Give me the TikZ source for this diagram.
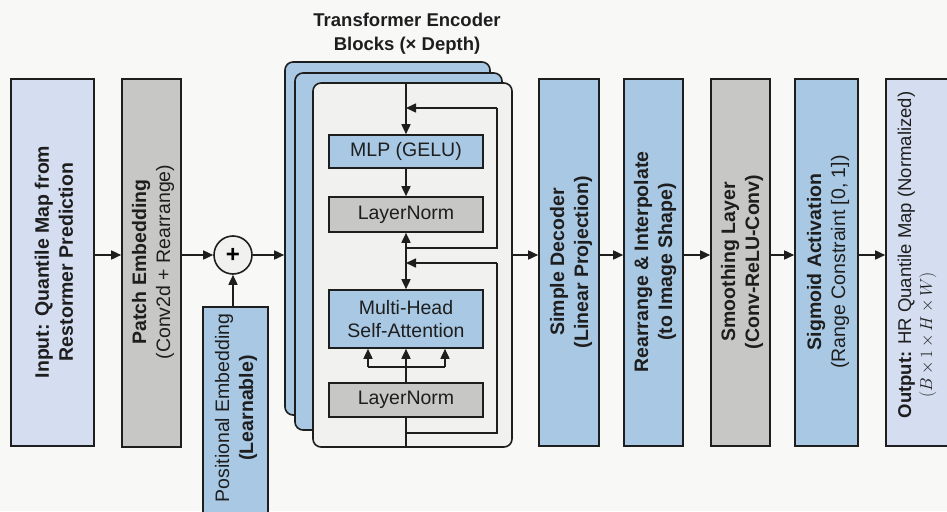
\documentclass[tikz,border=0pt]{standalone}
\usepackage{fontspec}
\setmainfont{Liberation Sans}
\usetikzlibrary{arrows.meta,calc}
\definecolor{bg}{HTML}{F8F8F7}
\definecolor{edge}{HTML}{1E1E1E}
\definecolor{lav}{HTML}{D5DEF0}
\definecolor{gry}{HTML}{C7C7C5}
\definecolor{blu}{HTML}{A8C8E4}
\definecolor{panel}{HTML}{F1F1EF}
\definecolor{txt}{HTML}{1E1E1E}
\begin{document}
\begin{tikzpicture}[x=1pt,y=-1pt,
  box/.style={draw=edge, line width=1.6pt, inner sep=0pt},
  layer/.style={draw=edge, line width=1.6pt, rounded corners=8pt, inner sep=0pt},
  lbl/.style={rotate=90, align=center, font=\fontsize{19.5}{24}\selectfont, text=txt, inner sep=0pt},
  ibox/.style={box, minimum width=154pt, align=center, font=\fontsize{19.5}{23}\selectfont, text=txt},
  arr/.style={line width=1.6pt, draw=edge, -{Triangle[length=10pt,width=9pt]}},
  ln/.style={line width=1.6pt, draw=edge}]
\fill[bg] (0,0) rectangle (947,511);
\path[use as bounding box] (0,0) rectangle (947,511);

% title
\node[align=center, font=\bfseries\fontsize{18.5}{24}\selectfont, text=txt] (title) at (407,34) {Transformer Encoder\\Blocks (× Depth)};

% left boxes
\node[box, fill=lav, minimum width=83pt, minimum height=367pt] (inp) at (52.5,262.5) {};
\node[lbl] (inpt) at (54,262) {\textbf{Input: Quantile Map from}\\\textbf{Restormer Prediction}};
\node[box, fill=gry, minimum width=59pt, minimum height=368pt] (patch) at (151.5,263) {};
\node[lbl] (patcht) at (153,262) {\textbf{Patch Embedding}\\(Conv2d + Rearrange)};

\node[draw=edge, line width=1.6pt, circle, fill=panel, minimum size=38pt, inner sep=0pt, font=\bfseries\fontsize{24}{24}\selectfont] (plus) at (233,255) {+};

\node[box, fill=blu, minimum width=65pt, minimum height=223pt] (pos) at (235.5,418.5) {};
\node[lbl] (post) at (236,408) {Positional Embedding\\\textbf{(Learnable)}};

% stacked encoder blocks
\node[layer, fill=blu, minimum width=205pt, minimum height=353pt] (l3) at (387.5,238.5) {};
\node[layer, fill=blu, minimum width=207pt, minimum height=357pt] (l2) at (398.5,251.5) {};
\node[layer, fill=panel, minimum width=199pt, minimum height=364pt] (front) at (412.5,265) {};

\node[ibox, fill=blu, minimum height=33pt] (mlp) at (406,151.5) {MLP (GELU)};
\node[ibox, fill=gry, minimum height=35pt] (ln1) at (406,214.5) {LayerNorm};
\node[ibox, fill=blu, minimum height=58pt] (mhsa) at (406,319) {Multi-Head\\Self-Attention};
\node[ibox, fill=gry, minimum height=34pt] (ln2) at (406,400) {LayerNorm};

\coordinate (j1) at (406,248);
\coordinate (r1a) at (497,248);
\coordinate (r1b) at (497,108);
\coordinate (r1c) at (406,108);
\coordinate (j2) at (406,433);
\coordinate (r2a) at (497,433);
\coordinate (r2b) at (497,263);
\coordinate (r2c) at (406,263);
\coordinate (bl) at (368,367);
\coordinate (br) at (445,367);

\draw[arr] (mlp.north |- front.north) -- (mlp.north);
\draw[arr] (mlp.south) -- (ln1.north);
\draw[arr] (j1) -- (ln1.south);
\draw[arr] (j1) -- (mhsa.north);
\draw[ln] (j1) -- (r1a) -- (r1b);
\draw[arr] (r1b) -- (r1c);
\draw[ln] (j2) -- (r2a) -- (r2b);
\draw[arr] (r2b) -- (r2c);
\draw[arr] (ln2.north) -- (mhsa.south);
\draw[ln] (bl) -- (br);
\draw[arr] (bl) -- (bl |- mhsa.south);
\draw[arr] (br) -- (br |- mhsa.south);
\draw[ln] (ln2.south) -- (ln2.south |- front.south);

% right boxes
\node[box, fill=blu, minimum width=60pt, minimum height=367pt] (dec) at (569,262.5) {};
\node[lbl] (dect) at (571,262) {\textbf{Simple Decoder}\\\textbf{(Linear Projection)}};
\node[box, fill=blu, minimum width=59pt, minimum height=367pt] (rea) at (653.5,262.5) {};
\node[lbl] (reat) at (655,262) {\textbf{Rearrange \& Interpolate}\\\textbf{(to Image Shape)}};
\node[box, fill=gry, minimum width=59pt, minimum height=367pt] (smo) at (740.5,262.5) {};
\node[lbl] (smot) at (742,262) {\textbf{Smoothing Layer}\\\textbf{(Conv-ReLU-Conv)}};
\node[box, fill=blu, minimum width=63pt, minimum height=367pt] (sig) at (826.5,262.5) {};
\node[lbl] (sigt) at (828,262) {\textbf{Sigmoid Activation}\\(Range Constraint [0, 1])};
\node[box, fill=lav, minimum width=70pt, minimum height=367pt] (out) at (921,262.5) {};
\node[lbl, align=left, font=\fontsize{18.5}{21}\selectfont] (outt) at (917,255) {\textbf{Output:} HR Quantile Map (Normalized)\\\hspace*{21pt}{\fontsize{18}{21}\selectfont$(B\,{\times}\,1\,{\times}\,H\,{\times}\,W)$}};

% main flow
\draw[arr] (inp.east |- plus) -- (patch.west |- plus);
\draw[arr] (patch.east |- plus) -- (plus.west);
\draw[arr] (pos.north -| plus) -- (plus.south);
\draw[arr] (plus.east) -- (l3.west |- plus);
\draw[arr] (front.east |- plus) -- (dec.west |- plus);
\draw[arr] (dec.east |- plus) -- (rea.west |- plus);
\draw[arr] (rea.east |- plus) -- (smo.west |- plus);
\draw[arr] (smo.east |- plus) -- (sig.west |- plus);
\draw[arr] (sig.east |- plus) -- (out.west |- plus);
\end{tikzpicture}
\end{document}
